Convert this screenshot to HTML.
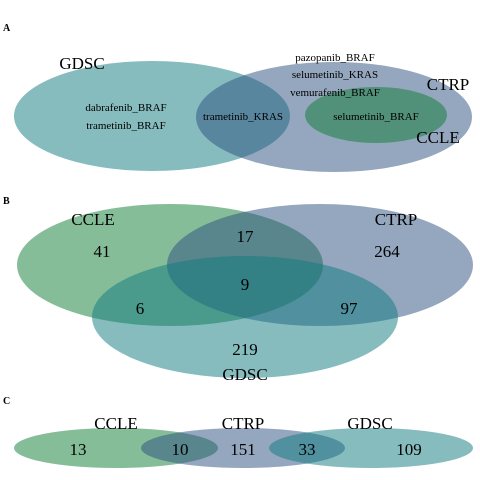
<!DOCTYPE html>
<html><head><meta charset="utf-8"><style>body{margin:0;background:#fff}svg{display:block;font-family:"Liberation Serif",serif}</style></head>
<body>
<svg width="480" height="480">
<g>
<text x="3" y="31" font-size="10" font-weight="bold">A</text>
<ellipse cx="152" cy="116" rx="138" ry="55" fill="#0d7a7e" fill-opacity="0.5"/>
<ellipse cx="334" cy="117" rx="138" ry="55" fill="#2b4f7f" fill-opacity="0.5"/>
<ellipse cx="376" cy="115" rx="71" ry="28" fill="#0d7b34" fill-opacity="0.5"/>
<text x="82" y="69" font-size="17" text-anchor="middle">GDSC</text>
<text x="448" y="90" font-size="17" text-anchor="middle">CTRP</text>
<text x="438" y="143" font-size="17" text-anchor="middle">CCLE</text>
<g font-size="11" text-anchor="middle">
<text x="126" y="111">dabrafenib_BRAF</text>
<text x="126" y="129">trametinib_BRAF</text>
<text x="243" y="120">trametinib_KRAS</text>
<text x="335" y="61">pazopanib_BRAF</text>
<text x="335" y="78">selumetinib_KRAS</text>
<text x="335" y="96">vemurafenib_BRAF</text>
<text x="376" y="120">selumetinib_BRAF</text>
</g></g>
<g>
<text x="3" y="204" font-size="10" font-weight="bold">B</text>
<ellipse cx="170" cy="265" rx="153" ry="61" fill="#0d7b34" fill-opacity="0.5"/>
<ellipse cx="320" cy="265" rx="153" ry="61" fill="#2b4f7f" fill-opacity="0.5"/>
<ellipse cx="245" cy="317" rx="153" ry="61" fill="#0d7a7e" fill-opacity="0.5"/>
<g font-size="17" text-anchor="middle">
<text x="93" y="225">CCLE</text>
<text x="396" y="225">CTRP</text>
<text x="245" y="380">GDSC</text>
<text x="102" y="257">41</text>
<text x="245" y="242">17</text>
<text x="387" y="257">264</text>
<text x="245" y="290">9</text>
<text x="140" y="314">6</text>
<text x="349" y="314">97</text>
<text x="245" y="355">219</text>
</g></g>
<g>
<text x="3" y="404" font-size="10" font-weight="bold">C</text>
<ellipse cx="116" cy="448" rx="102" ry="20" fill="#0d7b34" fill-opacity="0.5"/>
<ellipse cx="243" cy="448" rx="102" ry="20" fill="#2b4f7f" fill-opacity="0.5"/>
<ellipse cx="371" cy="448" rx="102" ry="20" fill="#0d7a7e" fill-opacity="0.5"/>
<g font-size="17" text-anchor="middle">
<text x="116" y="429">CCLE</text>
<text x="243" y="429">CTRP</text>
<text x="370" y="429">GDSC</text>
<text x="78" y="455">13</text>
<text x="180" y="455">10</text>
<text x="243" y="455">151</text>
<text x="307" y="455">33</text>
<text x="409" y="455">109</text>
</g></g>
</svg>
</body></html>
